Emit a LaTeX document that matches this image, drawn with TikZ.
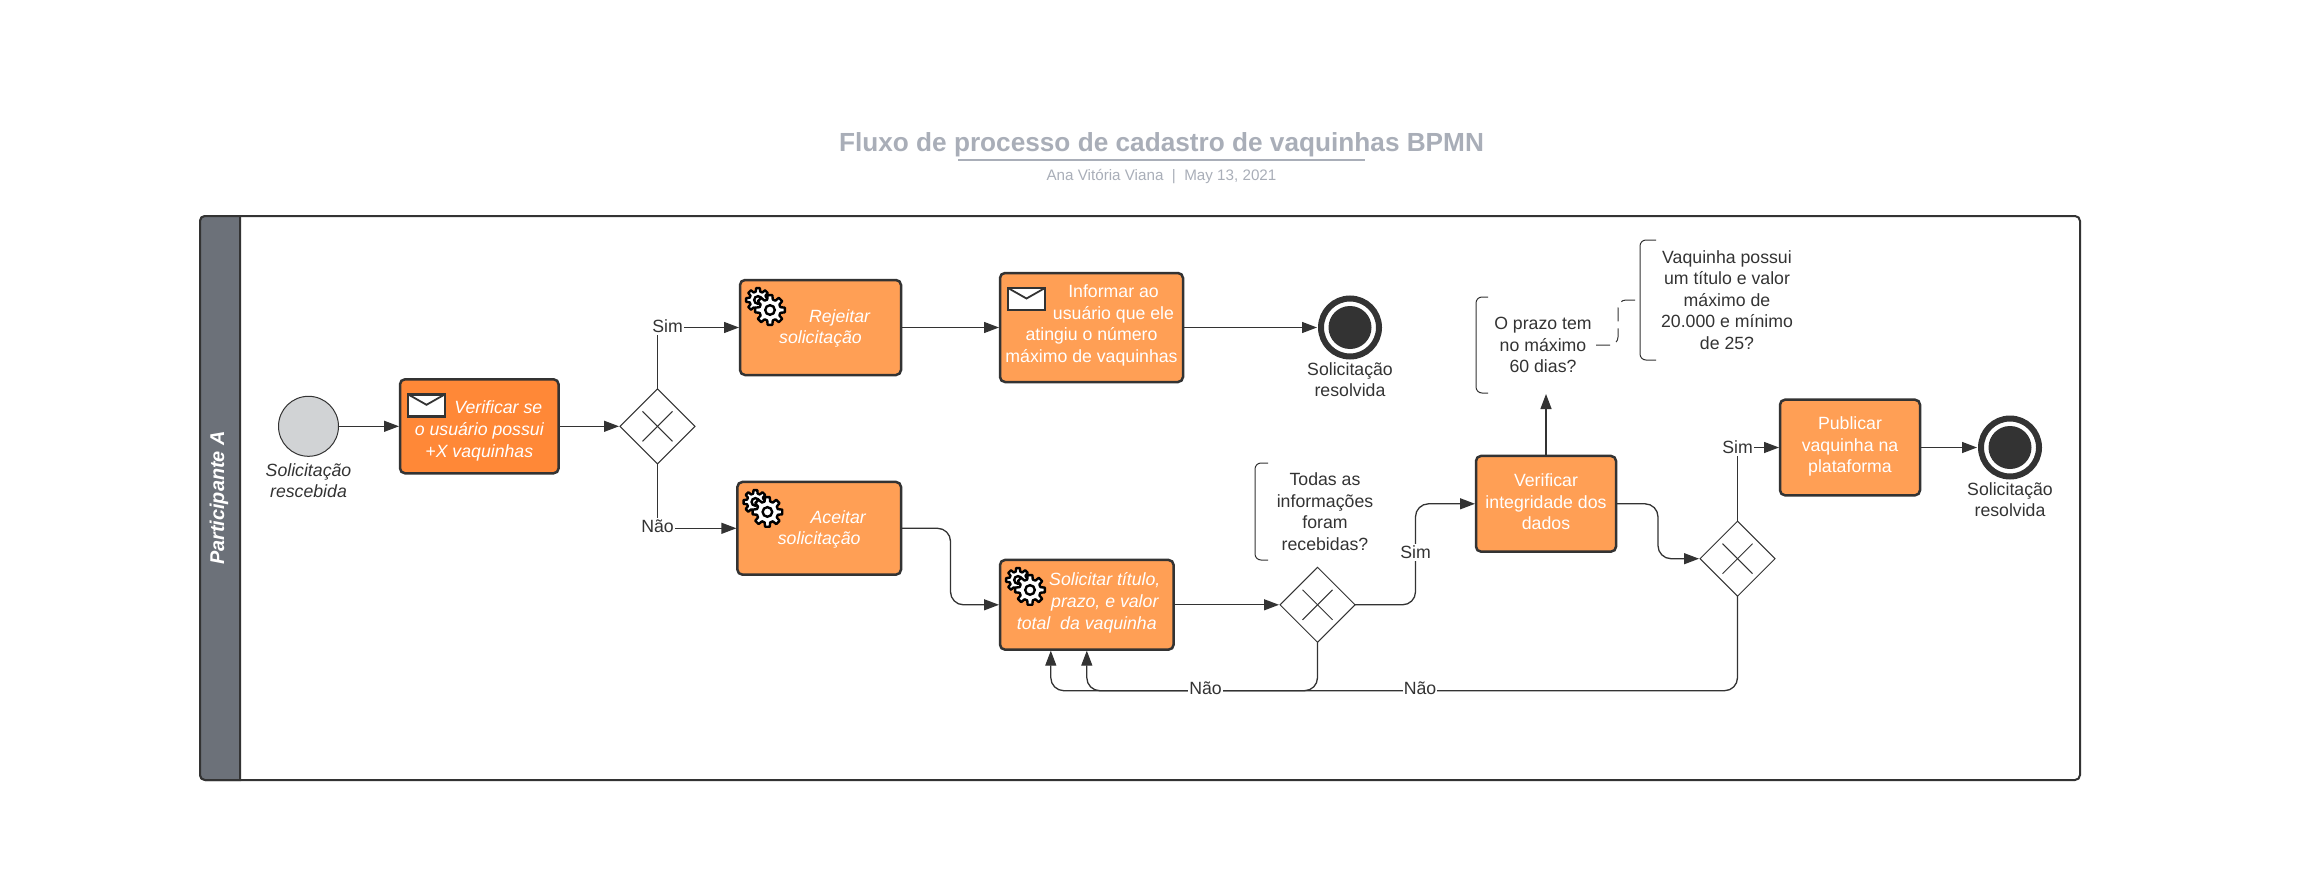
\documentclass[tikz,border=0pt]{standalone}
\usepackage{fontspec}
\setmainfont{Liberation Sans}
\usetikzlibrary{arrows.meta,positioning,calc,shapes.geometric}

\definecolor{traco}{HTML}{333333}
\definecolor{laranja}{HTML}{FF9F55}
\definecolor{laranjaforte}{HTML}{FF8837}
\definecolor{faixa}{HTML}{6C7179}
\definecolor{cinzainicio}{HTML}{D1D3D5}
\definecolor{titulo}{HTML}{A9AEB8}

\tikzset{
    engrenagem/.pic={
        \foreach \cx/\cy/\r in {-12/-10/12, 0/0/15} {
            \begin{scope}[shift={(\cx,\cy)}]
                \draw[black, fill=white, line width=2.4pt, line join=round] (-9:\r)
                    \foreach \a in {0,45,...,315} { -- (\a-9:\r) -- (\a+9:\r) -- (\a+15:0.72*\r) -- (\a+30:0.72*\r) } -- cycle;
                \draw[black, fill=white, line width=2.4pt] (0,0) circle (0.32*\r);
            \end{scope}
        }
    },
    envelope/.pic={
        \draw[traco, fill=white, line width=2.5pt] (0,0) rectangle (37,22);
        \draw[traco, line width=1.8pt] (0,0) -- (18.5,10.5) -- (37,0);
    }
}

\begin{document}
\begin{tikzpicture}[
    x=1pt, y=-1pt,
    >={Triangle[length=15pt,width=11pt]},
    every node/.style={outer sep=0pt},
    txt/.style={font=\fontsize{17.7}{21.6}\selectfont, align=center, text=traco, inner sep=0pt},
    task/.style={draw=traco, line width=2.5pt, rounded corners=5pt, fill=laranja, align=center, inner sep=0pt, text=white, font=\fontsize{17.7}{21.6}\selectfont},
    inicio/.style={circle, draw=traco, line width=1pt, fill=cinzainicio, minimum size=60pt, inner sep=0pt},
    fim/.style={circle, draw=traco, line width=6pt, fill=white, minimum size=58pt, inner sep=0pt, outer sep=3pt,
        path picture={\fill[traco] (path picture bounding box.center) circle (21.5pt);}},
    gateway/.style={diamond, aspect=1, draw=traco, line width=1pt, fill=white, minimum width=75pt, minimum height=75pt, inner sep=0pt,
        path picture={
            \draw[traco, line width=1pt] ([shift={(-15pt,-15pt)}]path picture bounding box.center) -- ([shift={(15pt,15pt)}]path picture bounding box.center);
            \draw[traco, line width=1pt] ([shift={(-15pt,15pt)}]path picture bounding box.center) -- ([shift={(15pt,-15pt)}]path picture bounding box.center);
        }},
    nota/.style={txt},
    rot/.style={txt, fill=white, inner xsep=1pt, inner ysep=2pt},
    arr/.style={->, draw=traco, line width=1.3pt, shorten >=1pt, rounded corners=13pt},
    colchete/.style={draw=traco, line width=1pt, rounded corners=6pt}
]
    \useasboundingbox (0,0) rectangle (2316,875);

    % titulo
    \node[font=\bfseries\fontsize{26.2}{30}\selectfont, text=titulo, inner sep=0pt] (tit) at (1161.5,144.5) {Fluxo de processo de cadastro de vaquinhas BPMN};
    \node[fill=titulo, minimum width=407pt, minimum height=2pt, inner sep=0pt] (sublinha) at (1161.5,160) {};
    \node[font=\fontsize{15.2}{18}\selectfont, text=titulo, inner sep=0pt] (autor) at (1161.5,176.7) {Ana Vitória Viana~~|~~May 13, 2021};

    % raia
    \node[draw=traco, line width=2pt, rounded corners=5pt, minimum width=1880pt, minimum height=564pt, inner sep=0pt] (raia) at (1140,498) {};
    \draw[draw=traco, line width=2pt, fill=faixa] ([xshift=40pt]raia.north west) [rounded corners=5pt] -- (raia.north west) -- (raia.south west) -- ([xshift=20pt]raia.south west) [sharp corners] -- ([xshift=40pt]raia.south west) -- cycle;
    \node[rotate=90, text=white, font=\bfseries\itshape\fontsize{19.9}{22}\selectfont, inner sep=0pt] (part) at (219,498) {Participante A};

    % linha de cima
    \node[inicio] (ini) at (308.5,426.3) {};
    \node[task, fill=laranjaforte, font=\itshape\fontsize{17.7}{21.6}\selectfont, minimum width=158.6pt, minimum height=94pt, right=61.5pt of ini] (verificar) {\rule{0pt}{22pt}\hspace*{38pt}Verificar se\\o usuário possui\\+X vaquinhas};
    \node[gateway, right=61.4pt of verificar] (gw1) {};
    \node[task, font=\itshape\fontsize{17.7}{21.6}\selectfont, minimum width=161pt, minimum height=95pt] (rejeitar) at (820.5,327.5) {\rule{0pt}{15pt}\hspace*{38pt}Rejeitar\\solicitação};
    \node[task, minimum width=183pt, minimum height=109pt, right=99pt of rejeitar] (informar) {\hspace*{44pt}Informar ao\\\hspace*{44pt}usuário que ele\\atingiu o número\\máximo de vaquinhas\rule[-7.7pt]{0pt}{0pt}};
    \node[fim, right=135pt of informar] (fim1) {};
    \node[txt, below=3pt of fim1] (rotfim1) {Solicitação\\resolvida};
    \node[txt, font=\itshape\fontsize{17.7}{21.6}\selectfont, below=7pt of ini] (rotini) {Solicitação\\rescebida};

    % linha de baixo
    \node[task, font=\itshape\fontsize{17.7}{21.6}\selectfont, minimum width=163.6pt, minimum height=92.7pt] (aceitar) at (819.2,528.3) {\rule{0pt}{15pt}\hspace*{38pt}Aceitar\\solicitação};
    \node[task, font=\itshape\fontsize{17.7}{21.6}\selectfont, minimum width=173.6pt, minimum height=89.7pt] (solicitar) at (1086.8,604.8) {\hspace*{36pt}Solicitar título,\\\hspace*{36pt}prazo, e valor\\total~~da vaquinha\rule[-7.7pt]{0pt}{0pt}};
    \node[gateway, right=106.4pt of solicitar] (gw2) {};
    \node[task, minimum width=140pt, minimum height=95.7pt] (integridade) at (1546,503.8) {Verificar\\integridade dos\\dados\rule[-4pt]{0pt}{0pt}};
    \node[gateway] (gw3) at (1737.5,558.7) {};
    \node[task, minimum width=140pt, minimum height=95.6pt] (publicar) at (1850,447.5) {Publicar\\vaquinha na\\plataforma\rule[-5.7pt]{0pt}{0pt}};
    \node[fim, right=58pt of publicar] (fim2) {};
    \node[txt, below=3pt of fim2] (rotfim2) {Solicitação\\resolvida};

    % notas
    \node[nota, minimum width=140pt, minimum height=97pt] (nota1) at (1325,511.5) {Todas as\\informações\\foram\\recebidas?};
    \node[nota, minimum width=134pt, minimum height=96pt] (nota2) at (1543,345) {O prazo tem\\no máximo\\60 dias?};
    \node[nota, minimum width=174pt, minimum height=120pt] (nota3) at (1727,300) {Vaquinha possui\\um título e valor\\máximo de\\20.000 e mínimo\\de 25?};
    \foreach \n/\w in {nota1/13pt, nota2/12pt, nota3/16pt} {
        \draw[colchete] ([xshift=\w]\n.north west) -- (\n.north west) -- (\n.south west) -- ([xshift=\w]\n.south west);
    }

    % icones
    \pic at ([shift={(8,15)}]verificar.north west) {envelope};
    \pic at ([shift={(8,15)}]informar.north west) {envelope};
    \pic at ([shift={(30,30)}]rejeitar.north west) {engrenagem};
    \pic at ([shift={(30,30)}]aceitar.north west) {engrenagem};
    \pic at ([shift={(30,30)}]solicitar.north west) {engrenagem};

    % fluxos
    \draw[arr] (ini) -- (verificar);
    \draw[arr] (verificar) -- (gw1);
    \draw[arr, rounded corners=0pt] (gw1.north) |- (rejeitar.west);
    \draw[arr, rounded corners=0pt] (gw1.south) |- (aceitar.west);
    \draw[arr] (rejeitar) -- (informar);
    \draw[arr] (informar) -- (fim1);
    \draw[arr] (aceitar.east) -| ($(aceitar.east)!.5!(solicitar.west)$) |- (solicitar.west);
    \draw[arr] (solicitar) -- (gw2);
    \draw[arr] (gw2.east) -| ($(gw2.east)!.5!(integridade.west)$) |- (integridade.west);
    \draw[arr] (integridade.north) -- (integridade.north |- nota2.south);
    \draw[arr] (integridade.east) -| ($(integridade.east)!.5!(gw3.west)$) |- (gw3.west);
    \draw[arr, rounded corners=0pt] (gw3.north) |- (publicar.west);
    \draw[arr] (publicar) -- (fim2);
    \coordinate (retorno) at (1200,690.7);
    \draw[arr] (gw2.south) |- (retorno) -| (solicitar.south);
    \draw[arr] (gw3.south) |- (retorno) -| ([xshift=-36pt]solicitar.south);
    \draw[draw=traco, line width=1pt, dash pattern=on 14pt off 7pt, rounded corners=8pt] ([xshift=-14pt]nota2.east) -| ($([xshift=-14pt]nota2.east)!.5!(nota3.west)$) |- (nota3.west);

    % rotulos
    \node[rot] (sim1) at (667.6,326) {Sim};
    \node[rot] (nao1) at (657.5,526) {Não};
    \node[rot] (sim2) at (1415.5,552) {Sim};
    \node[rot] (sim3) at (1737.5,447) {Sim};
    \node[rot] (nao2) at (1205.6,688) {Não};
    \node[rot] (nao3) at (1420,688) {Não};
\end{tikzpicture}
\end{document}
